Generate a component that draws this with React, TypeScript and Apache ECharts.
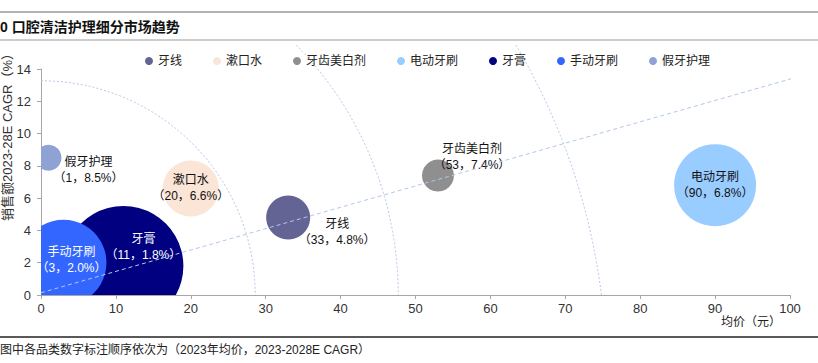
import React, { useEffect, useRef } from "react";
import * as echarts from "echarts";

// ---- data ----
const categories = ["牙线", "漱口水", "牙齿美白剂", "电动牙刷", "牙膏", "手动牙刷", "假牙护理"];
const avgPrice = [33, 20, 53, 90, 11, 3, 1]; // 2023 均价（元）
const cagr = [4.8, 6.6, 7.4, 6.8, 1.8, 2.0, 8.5]; // 2023-28E CAGR（%）
const marketSize = [22, 28, 16, 41, 60, 43, 13]; // bubble radius (relative market size)
const colors = ["#636394", "#fbe5d6", "#8f8f8f", "#99ccff", "#000080", "#3366ff", "#8fa2d4"];
const labelColors = ["#111", "#111", "#111", "#111", "#fff", "#fff", "#111"];
// label offsets from bubble centre (px)
const labelOffsets: [number, number][] = [
  [49, 14],
  [0, 0],
  [34, -19],
  [0, 0],
  [20, -19],
  [8, -3],
  [40, 12],
];
const trendLine = [
  [0, 0.14],
  [101.7, 13.6],
];
// decorative arcs: centre x, centre y, radius (in x-axis units)
const arcs = [
  [0, 0, 28.6],
  [0, 0, 47.7],
  [-11.1, -5.0, 86.6],
];

const FONT = "'Liberation Sans', 'Noto Sans CJK SC', sans-serif";

export default function App() {
  const ref = useRef<HTMLDivElement>(null);

  useEffect(() => {
    if (!ref.current) return;
    const chart = echarts.init(ref.current, undefined, { renderer: "svg" });

    const bubbleSeries = categories.map((name, i) => ({
      name,
      type: "custom",
      coordinateSystem: "cartesian2d",
      clip: true,
      z: 3,
      itemStyle: { color: colors[i] },
      data: [[avgPrice[i], cagr[i], marketSize[i]]],
      renderItem: (params: any, api: any) => {
        const c = api.coord([api.value(0), api.value(1)]);
        const r = api.value(2);
        const off = labelOffsets[i];
        return {
          type: "group",
          children: [
            {
              type: "circle",
              shape: { cx: c[0], cy: c[1], r },
              style: { fill: colors[i] },
            },
            {
              type: "text",
              x: c[0] + off[0],
              y: c[1] + off[1],
              z2: 10,
              style: {
                text: `${name}\n（${avgPrice[i]}，${cagr[i].toFixed(1)}%）`,
                fill: labelColors[i],
                font: `12px ${FONT}`,
                lineHeight: 16,
                align: "center",
                verticalAlign: "middle",
              },
            },
          ],
        };
      },
    }));

    const option: any = {
      animation: false,
      grid: { left: 41, right: 28, top: 69, bottom: 68 },
      legend: {
        data: categories,
        icon: "circle",
        itemWidth: 8,
        itemHeight: 8,
        itemGap: 31,
        left: 140,
        top: 50,
        textStyle: { fontSize: 12, color: "#222", fontFamily: FONT },
      },
      xAxis: {
        type: "value",
        min: 0,
        max: 100,
        interval: 10,
        splitLine: { show: false },
        axisLine: { lineStyle: { color: "#a6a6a6" } },
        axisTick: { show: true, length: 4, lineStyle: { color: "#a6a6a6" } },
        axisLabel: { color: "#333", fontSize: 13, fontFamily: FONT, margin: 7 },
      },
      yAxis: {
        type: "value",
        min: 0,
        max: 14,
        interval: 2,
        splitLine: { show: false },
        axisLine: { show: true, lineStyle: { color: "#a6a6a6" } },
        axisTick: { show: true, length: 4, lineStyle: { color: "#a6a6a6" } },
        axisLabel: { color: "#333", fontSize: 13, fontFamily: FONT, margin: 10 },
      },
      series: [
        {
          name: "arcs",
          type: "custom",
          coordinateSystem: "cartesian2d",
          clip: false,
          z: 1,
          silent: true,
          data: arcs,
          renderItem: (params: any, api: any) => {
            const c = api.coord([api.value(0), api.value(1)]);
            const r = api.size([api.value(2), 0])[0];
            const topY = 45;
            const axisY = api.coord([0, 0])[1];
            const up = c[1] - topY;
            const start = up >= r ? -Math.PI / 2 : -Math.asin(up / r);
            const down = c[1] - axisY;
            const end = down > 0 ? -Math.asin(down / r) : 0;
            return {
              type: "arc",
              shape: { cx: c[0], cy: c[1], r, startAngle: start, endAngle: end, clockwise: true },
              style: { stroke: "#b4c7e7", lineWidth: 1, lineDash: [2, 2], fill: null },
            };
          },
        },
        ...bubbleSeries,
        {
          name: "trend",
          type: "line",
          data: trendLine,
          symbol: "none",
          clip: false,
          z: 5,
          silent: true,
          lineStyle: { color: "#b4c7e7", width: 1, type: [4, 3] },
        },
      ],
      graphic: [
        {
          type: "line",
          shape: { x1: 0, y1: 12, x2: 818, y2: 12 },
          style: { stroke: "#666", lineWidth: 1 },
        },
        {
          type: "text",
          x: 0,
          y: 27,
          style: {
            text: "0 口腔清洁护理细分市场趋势",
            font: `bold 14px ${FONT}`,
            fill: "#111",
            verticalAlign: "middle",
          },
        },
        {
          type: "line",
          shape: { x1: 0, y1: 40, x2: 818, y2: 40 },
          style: { stroke: "#9a9a9a", lineWidth: 1 },
        },
        {
          type: "text",
          x: 7,
          y: 134,
          rotation: Math.PI / 2,
          style: {
            text: "销售额2023-28E CAGR（%）",
            font: `13px ${FONT}`,
            fill: "#333",
            align: "center",
            verticalAlign: "middle",
          },
        },
        {
          type: "text",
          x: 781,
          y: 322,
          style: {
            text: "均价（元）",
            font: `12px ${FONT}`,
            fill: "#222",
            align: "right",
            verticalAlign: "middle",
          },
        },
        {
          type: "line",
          shape: { x1: 0, y1: 337, x2: 818, y2: 337 },
          style: { stroke: "#222", lineWidth: 1.5 },
        },
        {
          type: "text",
          x: 0,
          y: 350,
          style: {
            text: "图中各品类数字标注顺序依次为（2023年均价，2023-2028E CAGR）",
            font: `12px ${FONT}`,
            fill: "#222",
            verticalAlign: "middle",
          },
        },
      ],
    };

    chart.setOption(option);
    return () => chart.dispose();
  }, []);

  return (
    <div
      ref={ref}
      style={{ position: "absolute", left: 0, top: 0, width: 818, height: 363, background: "#fff" }}
    />
  );
}
